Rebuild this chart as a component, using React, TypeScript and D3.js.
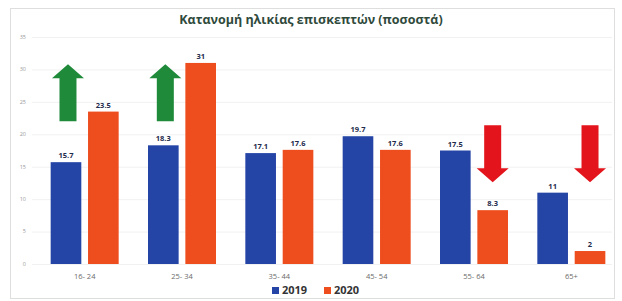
import { useEffect, useRef } from 'react';
import * as d3 from 'd3';

const categories = ['16- 24', '25- 34', '35- 44', '45- 54', '55- 64', '65+'];
const years = ['2019', '2020'];
const values2019 = [15.7, 18.3, 17.1, 19.7, 17.5, 11];
const values2020 = [23.5, 31, 17.6, 17.6, 8.3, 2];
const yTicks = [0, 5, 10, 15, 20, 25, 30, 35];
// arrows drawn over the groups: up = growth, down = drop
const arrowCats = ['16- 24', '25- 34', '55- 64', '65+'];
const arrowDirs = ['up', 'up', 'down', 'down'];

const colors = { '2019': '#2444a6', '2020': '#ee4d1d' };

function App() {
  const svgRef = useRef<SVGSVGElement>(null);

  useEffect(() => {
    const W = 622;
    const H = 301;
    const margin = { top: 37, right: 2, bottom: 37, left: 36 };

    const svg = d3.select(svgRef.current);
    svg.selectAll('*').remove();

    svg.append('rect').attr('width', W).attr('height', H).attr('fill', '#fff');
    // light frame
    svg
      .append('rect')
      .attr('x', 10.5)
      .attr('y', 8.5)
      .attr('width', 604)
      .attr('height', 290)
      .attr('fill', 'none')
      .attr('stroke', '#dedede');

    const y = d3.scaleLinear().domain([0, 35]).range([H - margin.bottom, margin.top]);
    const x = d3.scaleBand().domain(categories).range([margin.left, W - margin.right]).paddingInner(0).paddingOuter(0);
    const xs = d3.scaleBand().domain(years).range([-34, 34]).paddingInner(0.18);

    // grid
    svg
      .append('g')
      .selectAll('line')
      .data(yTicks)
      .enter()
      .append('line')
      .attr('x1', margin.left - 4)
      .attr('x2', W - 10)
      .attr('y1', (d) => y(d) + 0.5)
      .attr('y2', (d) => y(d) + 0.5)
      .attr('stroke', '#f1f1f1');

    svg
      .append('g')
      .selectAll('text')
      .data(yTicks)
      .enter()
      .append('text')
      .attr('x', 26)
      .attr('y', (d) => y(d))
      .attr('dy', '0.35em')
      .attr('text-anchor', 'end')
      .style('font-family', 'Open Sans, sans-serif')
      .style('font-size', '5.5px')
      .style('fill', '#9a9a9a')
      .text((d) => d);

    // title
    svg
      .append('text')
      .attr('x', 311)
      .attr('y', 24)
      .attr('text-anchor', 'middle')
      .style('font-family', 'Open Sans, sans-serif')
      .style('font-size', '12.5px')
      .style('font-weight', 'bold')
      .style('fill', '#2f4a3c')
      .text('Κατανομή ηλικίας επισκεπτών (ποσοστά)');

    const rows = categories.flatMap((c, i) => [
      { cat: c, year: '2019', value: values2019[i] },
      { cat: c, year: '2020', value: values2020[i] },
    ]);

    svg
      .append('g')
      .selectAll('rect')
      .data(rows)
      .enter()
      .append('rect')
      .attr('x', (d) => x(d.cat)! + x.bandwidth() / 2 + xs(d.year)!)
      .attr('y', (d) => y(d.value))
      .attr('width', xs.bandwidth())
      .attr('height', (d) => y(0) - y(d.value))
      .attr('fill', (d) => colors[d.year as '2019' | '2020']);

    svg
      .append('g')
      .selectAll('text')
      .data(rows)
      .enter()
      .append('text')
      .attr('x', (d) => x(d.cat)! + x.bandwidth() / 2 + xs(d.year)! + xs.bandwidth() / 2)
      .attr('y', (d) => y(d.value) - 4)
      .attr('text-anchor', 'middle')
      .style('font-family', 'Open Sans, sans-serif')
      .style('font-size', '7.5px')
      .style('font-weight', 'bold')
      .style('fill', '#1f2b4d')
      .text((d) => String(d.value));

    // x labels
    svg
      .append('g')
      .selectAll('text')
      .data(categories)
      .enter()
      .append('text')
      .attr('x', (d) => x(d)! + x.bandwidth() / 2)
      .attr('y', 279)
      .attr('text-anchor', 'middle')
      .style('font-family', 'Open Sans, sans-serif')
      .style('font-size', '7.5px')
      .style('fill', '#6b6b6b')
      .text((d) => d);

    // arrows
    const arrowPath = (cx: number, top: number, bottom: number, dir: string) => {
      const hw = 16; // half head width
      const sw = 8.5; // half shaft width
      const hh = 14; // head height
      if (dir === 'up') {
        return `M${cx},${top} L${cx + hw},${top + hh} L${cx + sw},${top + hh} L${cx + sw},${bottom} L${cx - sw},${bottom} L${cx - sw},${top + hh} L${cx - hw},${top + hh} Z`;
      }
      return `M${cx},${bottom} L${cx + hw},${bottom - hh} L${cx + sw},${bottom - hh} L${cx + sw},${top} L${cx - sw},${top} L${cx - sw},${bottom - hh} L${cx - hw},${bottom - hh} Z`;
    };

    svg
      .append('g')
      .selectAll('path')
      .data(arrowCats.map((c, i) => ({ cat: c, dir: arrowDirs[i] })))
      .enter()
      .append('path')
      .attr('d', (d) => {
        const yr = d.dir === 'up' ? '2019' : '2020';
        const cx = x(d.cat)! + x.bandwidth() / 2 + xs(yr)! + xs.bandwidth() / 2 + (d.dir === 'up' ? 2 : 0);
        return d.dir === 'up' ? arrowPath(cx, y(30.8), y(22), 'up') : arrowPath(cx, y(21.4), y(12.6), 'down');
      })
      .attr('fill', (d) => (d.dir === 'up' ? '#1e8a3a' : '#e3141b'));

    // legend
    const legend = svg.append('g').attr('transform', 'translate(272,294)');
    years.forEach((yr, i) => {
      const g = legend.append('g').attr('transform', `translate(${i * 52},0)`);
      g.append('rect')
        .attr('x', 0)
        .attr('y', -7)
        .attr('width', 7)
        .attr('height', 7)
        .attr('fill', colors[yr as '2019' | '2020']);
      g.append('text')
        .attr('x', 10)
        .attr('y', 0)
        .style('font-family', 'Open Sans, sans-serif')
        .style('font-size', '11px')
        .style('font-weight', 'bold')
        .style('fill', '#333')
        .text(yr);
    });
  }, []);

  return (
    <svg
      ref={svgRef}
      width={622}
      height={301}
      style={{ position: 'fixed', left: 0, top: 0, display: 'block' }}
    ></svg>
  );
}

export default App;
